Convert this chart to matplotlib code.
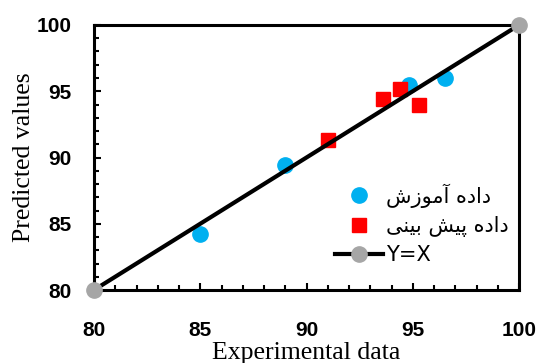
import matplotlib
matplotlib.use("Agg")
import matplotlib.pyplot as plt
from matplotlib.ticker import MultipleLocator

# ---- data ----
train_x = [85.0, 89.0, 94.8, 96.5]
train_y = [84.2, 89.4, 95.5, 96.0]
test_x = [91.0, 93.6, 94.4, 95.3]
test_y = [91.3, 94.4, 95.2, 94.0]
line_x = [80, 100]
line_y = [80, 100]
ticks = [80, 85, 90, 95, 100]
tick_labels = ["80", "85", "90", "95", "100"]

label_train = "داده آموزش"
label_test = "داده پیش بینی"
label_line = "Y=X"
xlabel = "Experimental data"
ylabel = "Predicted values"

# ---- minimal Persian shaping (matplotlib has no complex text layout) ----
FORMS = {  # iso, fin, ini, med
    "ا": ("\uFE8D", "\uFE8E", None, None),
    "آ": ("\uFE81", "\uFE82", None, None),
    "د": ("\uFEA9", "\uFEAA", None, None),
    "ز": ("\uFEAF", "\uFEB0", None, None),
    "و": ("\uFEED", "\uFEEE", None, None),
    "ه": ("\uFEE9", "\uFEEA", "\uFEEB", "\uFEEC"),
    "م": ("\uFEE1", "\uFEE2", "\uFEE3", "\uFEE4"),
    "ش": ("\uFEB5", "\uFEB6", "\uFEB7", "\uFEB8"),
    "پ": ("\uFB56", "\uFB57", "\uFB58", "\uFB59"),
    "ی": ("\uFBFC", "\uFBFD", "\uFBFE", "\uFBFF"),
    "ب": ("\uFE8F", "\uFE90", "\uFE91", "\uFE92"),
    "ن": ("\uFEE5", "\uFEE6", "\uFEE7", "\uFEE8"),
}


def shape(s):
    out = []
    for i, c in enumerate(s):
        if c not in FORMS:
            out.append(c)
            continue
        f = FORMS[c]
        prev = s[i - 1] if i > 0 else None
        nxt = s[i + 1] if i + 1 < len(s) else None
        jp = prev in FORMS and FORMS[prev][2] is not None
        jn = f[2] is not None and nxt in FORMS
        if jp and jn:
            out.append(f[3])
        elif jp:
            out.append(f[1])
        elif jn:
            out.append(f[2])
        else:
            out.append(f[0])
    return "".join(reversed(out))


plt.rcParams["font.family"] = ["Liberation Sans", "DejaVu Sans"]
plt.rcParams["xtick.major.pad"] = 22
plt.rcParams["ytick.major.pad"] = 16

fig = plt.figure(figsize=(5.41, 3.63), dpi=100)
ax = fig.add_axes([94 / 541, 1 - 290 / 363, 425 / 541, 265 / 363])

ax.plot(line_x, line_y, color="black", lw=3, marker="o", ms=11,
        mfc="#A6A6A6", mec="#A6A6A6", clip_on=False, zorder=3,
        label=label_line)
ax.plot(train_x, train_y, ls="none", marker="o", ms=11, color="#00B0F0",
        mec="#00B0F0", zorder=2, label=shape(label_train))
ax.plot(test_x, test_y, ls="none", marker="s", ms=10.5, color="#FF0000",
        mec="#FF0000", zorder=2, label=shape(label_test))

ax.set_xlim(80, 100)
ax.set_ylim(80, 100)
ax.set_xticks(ticks)
ax.set_yticks(ticks)
ax.set_xticklabels(tick_labels, fontweight="bold", fontsize=15,
                   fontfamily="Liberation Sans")
ax.set_yticklabels(tick_labels, fontweight="bold", fontsize=15,
                   fontfamily="Liberation Sans")
ax.xaxis.set_minor_locator(MultipleLocator(1))
ax.yaxis.set_minor_locator(MultipleLocator(1))
for sp in ax.spines.values():
    sp.set_linewidth(2.2)
ax.tick_params(which="major", direction="in", length=5, width=1.5,
               top=False, right=False)
ax.tick_params(which="minor", direction="in", length=3.6, width=1.5,
               top=False, right=False)

ax.set_xlabel(xlabel, fontfamily="Liberation Serif", fontsize=18.5,
              labelpad=2)
ax.set_ylabel(ylabel, fontfamily="Liberation Serif", fontsize=18.5,
              labelpad=1)

handles, labels = ax.get_legend_handles_labels()
order = [1, 2, 0]
leg = ax.legend([handles[i] for i in order], [labels[i] for i in order],
                frameon=False, loc="upper left",
                bbox_to_anchor=(325 / 541, 1 - 173 / 363),
                bbox_transform=fig.transFigure, borderpad=0,
                handlelength=2.3, handletextpad=0.15, labelspacing=0.4,
                prop={"family": "DejaVu Sans", "size": 15})

fig.savefig("out.png", dpi=100)
